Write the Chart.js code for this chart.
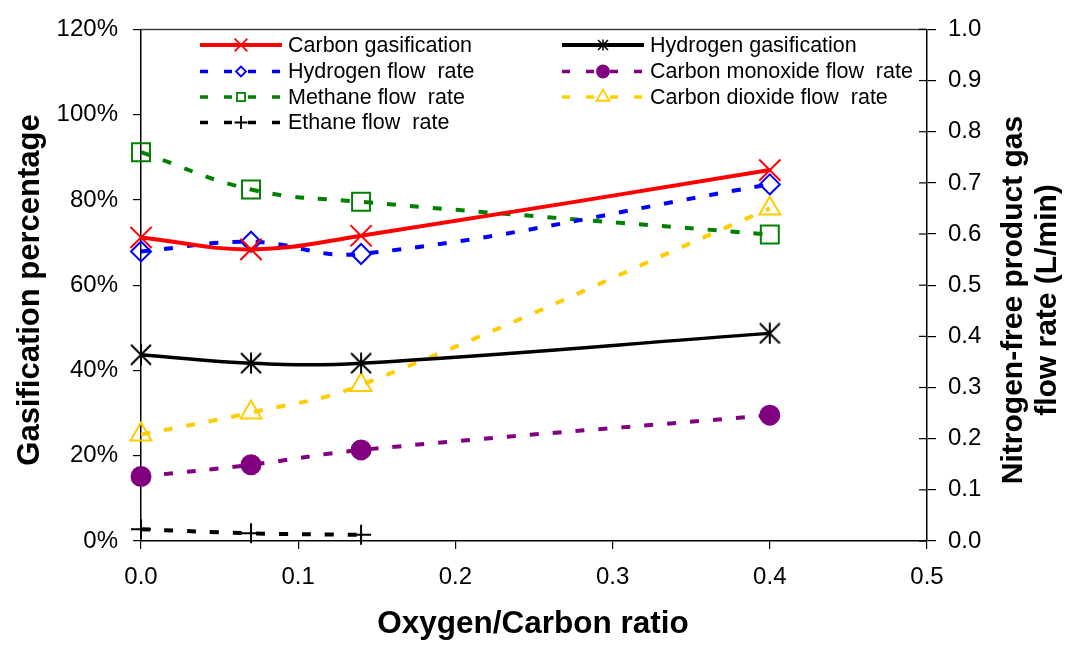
<!DOCTYPE html>
<html>
<head>
<meta charset="utf-8">
<title>Gasification vs Oxygen/Carbon ratio</title>
<script src="https://cdn.jsdelivr.net/npm/chart.js@4.4.1/dist/chart.umd.min.js"></script>
<style>
  html, body { margin: 0; padding: 0; background: #fff; }
  #wrap { width: 1068px; height: 647px; }
</style>
</head>
<body>
<div id="wrap"><canvas id="gasChart" width="1068" height="647"></canvas></div>
<script>
  // data
  const oxygenCarbonRatio = [0, 0.07, 0.14, 0.4];
  const carbonGasification = [71.2, 68.4, 71.6, 87.0];      // %
  const hydrogenGasification = [43.7, 41.7, 41.7, 48.7];    // %
  const hydrogenFlow = [0.566, 0.585, 0.561, 0.697];        // L/min
  const carbonMonoxideFlow = [0.126, 0.149, 0.178, 0.246];
  const methaneFlow = [0.760, 0.687, 0.663, 0.599];
  const carbonDioxideFlow = [0.208, 0.251, 0.305, 0.650];
  const ethaneRatio = [0, 0.07, 0.14];
  const ethaneFlow = [0.023, 0.015, 0.012];

  const xTickLabels = ['0.0', '0.1', '0.2', '0.3', '0.4', '0.5'];
  const leftTickLabels = ['0%', '20%', '40%', '60%', '80%', '100%', '120%'];
  const rightTickLabels = ['0.0', '0.1', '0.2', '0.3', '0.4', '0.5', '0.6', '0.7', '0.8', '0.9', '1.0'];

  const xTitle = 'Oxygen/Carbon ratio';
  const leftTitle = 'Gasification percentage';
  const rightTitle = ['Nitrogen-free product gas', 'flow rate (L/min)'];

  const family = "'Liberation Sans', Arial, sans-serif";
  Chart.defaults.font.family = family;
  Chart.defaults.color = '#000';

  // asterisk marker (vertical bar + X), Excel style
  function makeAsterisk(size, lw) {
    const c = document.createElement('canvas');
    c.width = size;
    c.height = size;
    const g = c.getContext('2d');
    g.strokeStyle = '#000';
    g.lineWidth = lw;
    const m = size / 2;
    g.beginPath();
    g.moveTo(m, 0.5); g.lineTo(m, size - 0.5);
    g.moveTo(1, 1); g.lineTo(size - 1, size - 1);
    g.moveTo(size - 1, 1); g.lineTo(1, size - 1);
    g.stroke();
    return c;
  }
  const starBig = makeAsterisk(22, 2);
  const starSmall = makeAsterisk(12, 1.5);

  function pts(xs, ys) {
    return xs.map((x, i) => ({ x: x, y: ys[i] }));
  }

  const series = [
    { label: 'Carbon gasification', xs: oxygenCarbonRatio, ys: carbonGasification, axis: 'y',
      color: '#FF0000', dash: [], width: 4, style: 'crossRot', radius: 15, lRadius: 9, filled: false },
    { label: 'Hydrogen gasification', xs: oxygenCarbonRatio, ys: hydrogenGasification, axis: 'y',
      color: '#000000', dash: [], width: 3.5, style: starBig, lStyle: starSmall, radius: 11, lRadius: 6, filled: false },
    { label: 'Hydrogen flow  rate', xs: oxygenCarbonRatio, ys: hydrogenFlow, axis: 'y1',
      color: '#0000FF', dash: [9, 14], width: 4, style: 'rectRot', radius: 10, lRadius: 5, filled: false },
    { label: 'Carbon monoxide flow  rate', xs: oxygenCarbonRatio, ys: carbonMonoxideFlow, axis: 'y1',
      color: '#800080', dash: [9, 14], width: 4, style: 'circle', radius: 9.5, lRadius: 6, filled: true },
    { label: 'Methane flow  rate', xs: oxygenCarbonRatio, ys: methaneFlow, axis: 'y1',
      color: '#008000', dash: [9, 14], width: 4, style: 'rect', radius: 12.7, lRadius: 5.7, filled: false },
    { label: 'Carbon dioxide flow  rate', xs: oxygenCarbonRatio, ys: carbonDioxideFlow, axis: 'y1',
      color: '#FFCC00', dash: [9, 14], width: 4, style: 'triangle', radius: 12, lRadius: 7.5, filled: false },
    { label: 'Ethane flow  rate', xs: ethaneRatio, ys: ethaneFlow, axis: 'y1',
      color: '#000000', dash: [9, 14], width: 4, style: 'cross', radius: 10, lRadius: 6.5, filled: false }
  ];

  const datasets = series.map(s => ({
    label: s.label,
    data: pts(s.xs, s.ys),
    yAxisID: s.axis,
    borderColor: s.color,
    borderWidth: s.width,
    borderDash: s.dash,
    borderCapStyle: 'butt',
    tension: 0.4,
    fill: false,
    clip: false,
    pointStyle: s.style,
    pointRadius: s.radius,
    pointBorderColor: s.color,
    pointBorderWidth: 2,
    pointBackgroundColor: s.filled ? s.color : 'rgba(0,0,0,0)'
  }));

  // legend inside the plot, titles, top border, inner ticks on right axis
  const extras = {
    id: 'extras',
    afterDraw(chart) {
      const ctx = chart.ctx;
      const area = chart.chartArea;
      ctx.save();

      ctx.strokeStyle = '#404040';
      ctx.lineWidth = 1.5;
      ctx.beginPath();
      ctx.moveTo(area.left, area.top);
      ctx.lineTo(area.right, area.top);
      ctx.stroke();

      const r = chart.scales.y1;
      ctx.strokeStyle = '#000';
      ctx.lineWidth = 1.2;
      r.ticks.forEach(t => {
        const y = r.getPixelForValue(t.value);
        ctx.beginPath();
        ctx.moveTo(area.right - 8, y);
        ctx.lineTo(area.right, y);
        ctx.stroke();
      });

      // axis titles
      ctx.fillStyle = '#000';
      ctx.textAlign = 'center';
      ctx.textBaseline = 'middle';
      ctx.font = 'bold 31.5px ' + family;
      ctx.fillText(xTitle, 533, 624);
      ctx.font = 'bold 31px ' + family;
      ctx.save();
      ctx.translate(30, 290);
      ctx.rotate(-Math.PI / 2);
      ctx.fillText(leftTitle, 0, 0);
      ctx.restore();
      ctx.font = 'bold 30px ' + family;
      ctx.save();
      ctx.translate(1014, 300);
      ctx.rotate(-Math.PI / 2);
      ctx.fillText(rightTitle[0], 0, 0);
      ctx.fillText(rightTitle[1], 0, 34);
      ctx.restore();

      // legend
      const colX = [200, 562];
      const rowY = [45, 71.5, 97, 122.5];
      ctx.font = '21.5px ' + family;
      ctx.textAlign = 'left';
      series.forEach((s, i) => {
        const x0 = colX[i % 2];
        const y = rowY[Math.floor(i / 2)];
        ctx.strokeStyle = s.color;
        ctx.lineWidth = s.dash.length ? 3.5 : 4;
        ctx.setLineDash(s.dash.length ? [8, 16] : []);
        ctx.beginPath();
        ctx.moveTo(x0, y);
        ctx.lineTo(x0 + 82, y);
        ctx.stroke();
        ctx.setLineDash([]);
        ctx.lineWidth = 1.8;
        ctx.fillStyle = s.filled ? s.color : '#fff';
        Chart.helpers.drawPoint(ctx, {
          pointStyle: s.lStyle || s.style,
          radius: s.lRadius,
          rotation: 0,
          borderWidth: 1.8
        }, x0 + 41, y);
        ctx.fillStyle = '#000';
        ctx.fillText(s.label, x0 + 88, y + 1);
      });

      ctx.restore();
    }
  };

  const axisBorder = { display: true, color: '#000', width: 1.5 };

  const chart = new Chart(document.getElementById('gasChart').getContext('2d'), {
    type: 'line',
    data: { datasets: datasets },
    options: {
      responsive: false,
      animation: false,
      layout: { padding: { top: 25, left: 0, right: 0, bottom: 0 } },
      plugins: {
        legend: { display: false },
        tooltip: { enabled: false }
      },
      scales: {
        x: {
          type: 'linear',
          position: 'bottom',
          min: 0,
          max: 0.5,
          afterFit(scale) { scale.height = 106; },
          ticks: {
            stepSize: 0.1,
            font: { size: 24 },
            color: '#000',
            padding: 14,
            callback: (v, i) => xTickLabels[i]
          },
          grid: { drawOnChartArea: false, drawTicks: true, tickLength: 8, color: '#000', lineWidth: 1.2 },
          border: axisBorder
        },
        y: {
          position: 'left',
          min: 0,
          max: 120,
          afterFit(scale) { scale.width = 141; },
          ticks: {
            stepSize: 20,
            font: { size: 24 },
            color: '#000',
            padding: 15,
            callback: (v, i) => leftTickLabels[i]
          },
          grid: { drawOnChartArea: false, drawTicks: true, tickLength: 8, color: '#000', lineWidth: 1.2 },
          border: axisBorder
        },
        y1: {
          position: 'right',
          min: 0,
          max: 1,
          afterFit(scale) { scale.width = 141; },
          ticks: {
            stepSize: 0.1,
            font: { size: 24 },
            color: '#000',
            padding: 12,
            callback: (v, i) => rightTickLabels[i]
          },
          grid: { drawOnChartArea: false, drawTicks: true, tickLength: 9, color: '#000', lineWidth: 1.2 },
          border: axisBorder
        }
      }
    },
    plugins: [extras]
  });
</script>
</body>
</html>
